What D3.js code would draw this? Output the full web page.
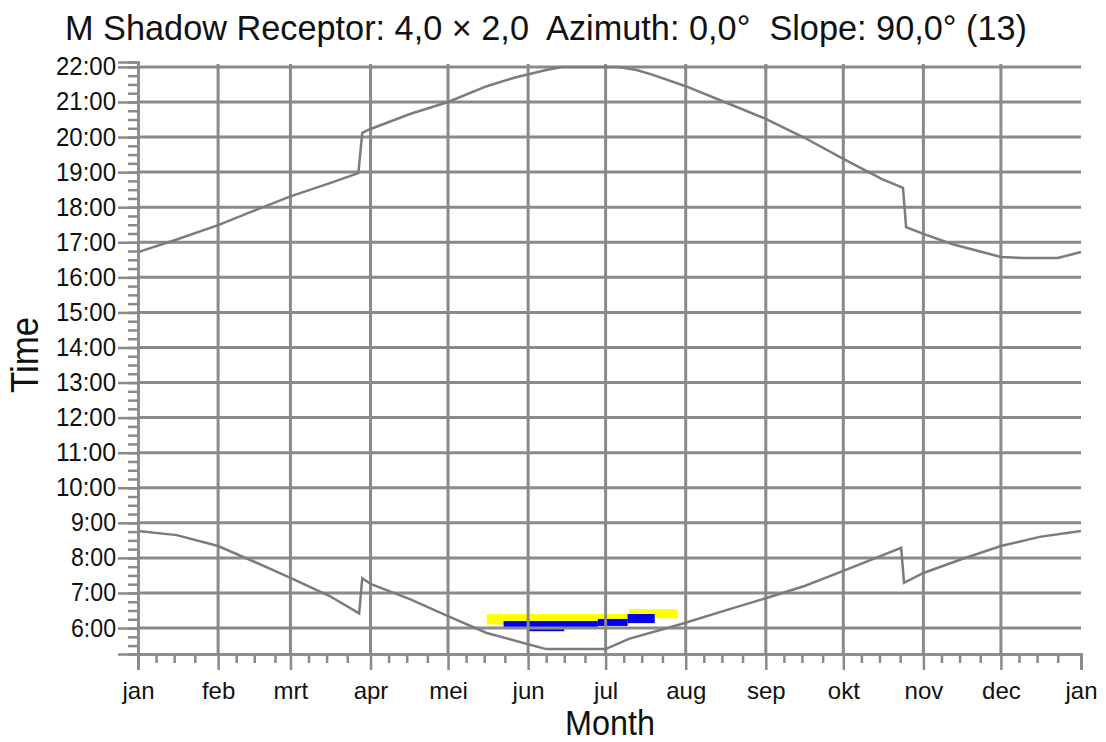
<!DOCTYPE html>
<html>
<head>
<meta charset="utf-8">
<script src="https://cdn.jsdelivr.net/npm/d3@7"></script>
<style>
	body { margin: 0; background: #fff; }
	text { font-family: "Liberation Sans", Arial, sans-serif; fill: #111; }
</style>
</head>
<body>
<svg id="chart"></svg>
<script>
// shadow calendar, days of the year on x, clock time (hours) on y

let monthDays = [0, 31, 59, 90, 120, 151, 181, 212, 243, 273, 304, 334, 365];
let monthNames = ['jan', 'feb', 'mrt', 'apr', 'mei', 'jun', 'jul', 'aug', 'sep', 'okt', 'nov', 'dec', 'jan'];
let hourTicks = [6, 7, 8, 9, 10, 11, 12, 13, 14, 15, 16, 17, 18, 19, 20, 21, 22];

// sunset line (upper)
let sunsetDay = [0, 15, 31, 45, 59, 74, 85.3, 86.8, 90, 105, 120, 135, 146, 158, 164, 186, 193, 199, 212, 227, 243, 258, 273, 288, 296.1, 297.3, 304, 315, 334, 343, 356, 365];
let sunsetTime = [16.72, 17.08, 17.49, 17.9, 18.31, 18.68, 18.97, 20.12, 20.23, 20.65, 21.0, 21.45, 21.7, 21.91, 22.0, 22.0, 21.91, 21.78, 21.45, 21.0, 20.52, 19.98, 19.38, 18.8, 18.55, 17.43, 17.24, 16.95, 16.58, 16.55, 16.55, 16.72];

// sunrise line (lower)
let sunriseDay = [0, 15, 31, 45, 59, 74, 85.6, 86.8, 90, 105, 120, 135, 151, 158, 181, 190, 210, 229, 243, 258, 273, 295.4, 296.5, 304, 319, 334, 349, 365];
let sunriseTime = [8.77, 8.65, 8.34, 7.89, 7.43, 6.92, 6.42, 7.42, 7.26, 6.83, 6.34, 5.86, 5.54, 5.4, 5.4, 5.69, 6.11, 6.54, 6.85, 7.2, 7.63, 8.29, 7.29, 7.57, 7.97, 8.34, 8.6, 8.77];

// shadow periods, yellow
let yellowFrom = [135, 190];
let yellowTo = [190, 209];
let yellowStart = [6.10, 6.28];
let yellowEnd = [6.40, 6.54];

// shadow periods, blue
let blueFrom = [141.5, 178, 189.5, 151];
let blueTo = [178, 189.5, 200, 165];
let blueStart = [6.0, 6.06, 6.14, 5.91];
let blueEnd = [6.20, 6.26, 6.40, 6.02];

let W = 1106, H = 742;
let gridCol = '#8a8a8a';

const svg = d3.select('#chart')
	.attr('width', W)
	.attr('height', H);

svg.append('rect').attr('width', W).attr('height', H).attr('fill', '#fff');

const x = d3.scaleLinear().domain([0, 365]).range([138, 1081]);
const y = d3.scaleLinear().domain([5.26, 22.14]).range([654, 62]);

// shadow rects go first so the grid sits on top of them
function periods(from, to, start, end) {
	return from.map((d, i) => ({ a: d, b: to[i], s: start[i], e: end[i] }));
}

svg.append('g').selectAll('rect')
	.data(periods(yellowFrom, yellowTo, yellowStart, yellowEnd))
	.enter().append('rect')
	.attr('x', d => x(d.a))
	.attr('width', d => x(d.b) - x(d.a))
	.attr('y', d => y(d.e))
	.attr('height', d => y(d.s) - y(d.e))
	.attr('fill', '#ffff00');

svg.append('g').selectAll('rect')
	.data(periods(blueFrom, blueTo, blueStart, blueEnd))
	.enter().append('rect')
	.attr('x', d => x(d.a))
	.attr('width', d => x(d.b) - x(d.a))
	.attr('y', d => y(d.e))
	.attr('height', d => y(d.s) - y(d.e))
	.attr('fill', '#0000f0');

// grid
svg.append('g').selectAll('line')
	.data(hourTicks)
	.enter().append('line')
	.attr('x1', x(0)).attr('x2', x(365))
	.attr('y1', d => y(d)).attr('y2', d => y(d))
	.attr('stroke', gridCol).attr('stroke-width', 3);

svg.append('g').selectAll('line')
	.data(monthDays.slice(1, -1))
	.enter().append('line')
	.attr('x1', d => x(d)).attr('x2', d => x(d))
	.attr('y1', 64).attr('y2', y.range()[0])
	.attr('stroke', gridCol).attr('stroke-width', 3);

// sunrise / sunset lines
const line = d3.line().x(d => x(d[0])).y(d => y(d[1]));

svg.append('path')
	.attr('d', line(sunsetDay.map((d, i) => [d, sunsetTime[i]])))
	.attr('fill', 'none').attr('stroke', '#7c7c7c').attr('stroke-width', 2.5);

svg.append('path')
	.attr('d', line(sunriseDay.map((d, i) => [d, sunriseTime[i]])))
	.attr('fill', 'none').attr('stroke', '#7c7c7c').attr('stroke-width', 2.5);

// y axis, quarter hour minor ticks
let quarters = d3.range(5.5, 22.01, 0.25);
const yMinor = d3.axisLeft(y).tickValues(quarters).tickSize(10).tickFormat('');
const yAxis = d3.axisLeft(y).tickValues(hourTicks).tickSize(20).tickPadding(2)
	.tickFormat(d => d + ':00');

let gyMinor = svg.append('g').attr('transform', 'translate(' + x(0) + ',0)').call(yMinor);
let gy = svg.append('g').attr('transform', 'translate(' + x(0) + ',0)').call(yAxis);

// x axis, minor ticks at roughly the weeks
let weekDays = [];
for (let i = 0; i < monthDays.length - 1; i++) {
	[7, 14, 22].forEach(k => weekDays.push(monthDays[i] + k));
}
const xMinor = d3.axisBottom(x).tickValues(weekDays).tickSize(9).tickFormat('');
const xAxis = d3.axisBottom(x).tickValues(monthDays).tickSize(16).tickPadding(12)
	.tickFormat((d, i) => monthNames[i]);

let gxMinor = svg.append('g').attr('transform', 'translate(0,' + y.range()[0] + ')').call(xMinor);
let gx = svg.append('g').attr('transform', 'translate(0,' + y.range()[0] + ')').call(xAxis);

[gy, gyMinor, gx, gxMinor].forEach(g => {
	g.selectAll('path, line').attr('stroke', gridCol).attr('stroke-width', 2.5);
	g.selectAll('text').attr('fill', '#111');
});

// condensed look of the original labels
gy.selectAll('text')
	.attr('font-size', 25)
	.attr('textLength', d => d < 10 ? 45 : 60)
	.attr('lengthAdjust', 'spacingAndGlyphs');
gx.selectAll('text')
	.attr('font-size', 24);

// titles
svg.append('text')
	.attr('x', 65).attr('y', 40)
	.attr('font-size', 35)
	.attr('textLength', 962)
	.attr('lengthAdjust', 'spacingAndGlyphs')
	.style('white-space', 'pre')
	.text('M Shadow Receptor: 4,0 × 2,0  Azimuth: 0,0°  Slope: 90,0° (13)');

svg.append('text')
	.attr('x', 565).attr('y', 735)
	.attr('font-size', 35)
	.attr('textLength', 90)
	.attr('lengthAdjust', 'spacingAndGlyphs')
	.text('Month');

svg.append('text')
	.attr('transform', 'translate(38,393) rotate(-90)')
	.attr('font-size', 38)
	.attr('textLength', 76)
	.attr('lengthAdjust', 'spacingAndGlyphs')
	.text('Time');
</script>
</body>
</html>
